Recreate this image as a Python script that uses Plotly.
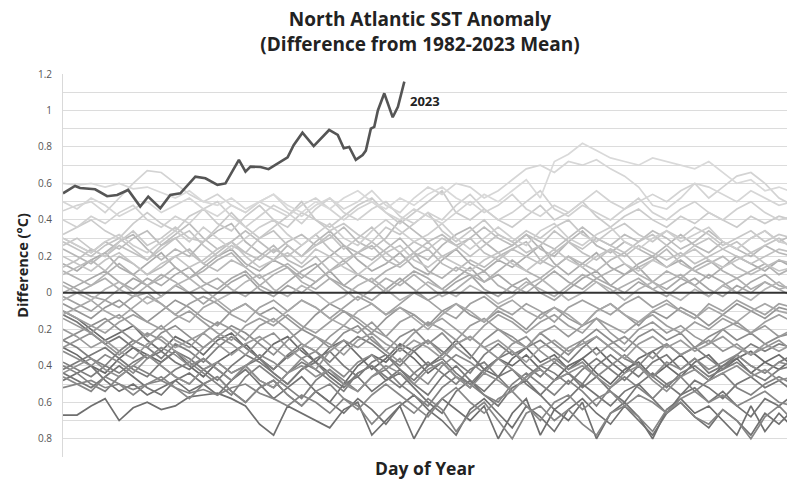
import plotly.graph_objects as go

# Day-of-year sample positions for the 1982-2022 series (weekly)
days = [1, 8, 15, 22, 29, 36, 43, 50, 57, 64, 71, 78, 85, 92, 99, 106, 113, 120, 127, 134,
        141, 148, 155, 162, 169, 176, 183, 190, 197, 204, 211, 218, 225, 232, 239, 246, 253,
        260, 267, 274, 281, 288, 295, 302, 309, 316, 323, 330, 337, 344, 351, 358, 365]

sst_1982 = [-0.30,-0.34,-0.40,-0.44,-0.36,-0.30,-0.34,-0.38,-0.32,-0.40, -0.46,-0.38,-0.33,-0.28,-0.36,-0.42,-0.35,-0.30,-0.38,-0.44, -0.50,-0.40,-0.34,-0.38,-0.30,-0.36,-0.44,-0.38,-0.46,-0.52, -0.42,-0.36,-0.40,-0.34,-0.42,-0.48,-0.40,-0.36,-0.44,-0.50, -0.42,-0.38,-0.46,-0.40,-0.34,-0.42,-0.48,-0.40,-0.36,-0.44, -0.38,-0.42,-0.36]
sst_1983 = [-0.10,-0.14,-0.20,-0.26,-0.22,-0.18,-0.26,-0.32,-0.24,-0.28, -0.34,-0.26,-0.22,-0.30,-0.36,-0.28,-0.24,-0.32,-0.38,-0.30, -0.26,-0.34,-0.42,-0.36,-0.28,-0.32,-0.40,-0.34,-0.26,-0.34, -0.42,-0.46,-0.36,-0.30,-0.38,-0.34,-0.42,-0.36,-0.30,-0.38, -0.44,-0.36,-0.32,-0.40,-0.46,-0.38,-0.34,-0.42,-0.36,-0.32, -0.38,-0.34,-0.40]
sst_1984 = [-0.67,-0.67,-0.62,-0.58,-0.70,-0.63,-0.60,-0.64,-0.62,-0.57, -0.56,-0.55,-0.58,-0.62,-0.72,-0.78,-0.62,-0.66,-0.70,-0.74, -0.64,-0.60,-0.78,-0.70,-0.62,-0.80,-0.66,-0.58,-0.64,-0.70, -0.62,-0.80,-0.66,-0.58,-0.78,-0.64,-0.70,-0.60,-0.80,-0.66, -0.60,-0.68,-0.80,-0.64,-0.58,-0.66,-0.62,-0.70,-0.78,-0.62, -0.76,-0.66,-0.74]
sst_1985 = [-0.48,-0.44,-0.40,-0.48,-0.54,-0.50,-0.56,-0.52,-0.48,-0.54, -0.50,-0.46,-0.54,-0.60,-0.52,-0.48,-0.56,-0.62,-0.54,-0.60, -0.66,-0.58,-0.64,-0.72,-0.62,-0.56,-0.64,-0.70,-0.78,-0.64, -0.58,-0.66,-0.74,-0.62,-0.68,-0.76,-0.64,-0.58,-0.66,-0.72, -0.62,-0.70,-0.78,-0.66,-0.60,-0.68,-0.74,-0.64,-0.70,-0.78, -0.66,-0.72,-0.64]
sst_1986 = [-0.44,-0.48,-0.52,-0.46,-0.40,-0.46,-0.52,-0.56,-0.48,-0.44, -0.50,-0.56,-0.48,-0.42,-0.50,-0.58,-0.52,-0.46,-0.54,-0.60, -0.50,-0.46,-0.54,-0.48,-0.44,-0.52,-0.60,-0.66,-0.54,-0.48, -0.56,-0.62,-0.52,-0.48,-0.56,-0.64,-0.58,-0.50,-0.56,-0.62, -0.54,-0.50,-0.58,-0.66,-0.56,-0.52,-0.60,-0.54,-0.62,-0.68, -0.58,-0.62,-0.56]
sst_1987 = [-0.12,-0.16,-0.22,-0.28,-0.24,-0.30,-0.36,-0.32,-0.38,-0.42, -0.36,-0.42,-0.48,-0.40,-0.36,-0.44,-0.50,-0.42,-0.38,-0.46, -0.52,-0.44,-0.40,-0.48,-0.42,-0.50,-0.56,-0.46,-0.40,-0.48, -0.54,-0.46,-0.42,-0.50,-0.56,-0.48,-0.44,-0.52,-0.46,-0.54, -0.60,-0.50,-0.44,-0.50,-0.56,-0.48,-0.52,-0.58,-0.50,-0.46, -0.52,-0.48,-0.54]
sst_1988 = [-0.42,-0.38,-0.34,-0.30,-0.36,-0.42,-0.46,-0.38,-0.32,-0.36, -0.42,-0.48,-0.40,-0.34,-0.38,-0.44,-0.50,-0.42,-0.36,-0.32, -0.40,-0.46,-0.38,-0.34,-0.42,-0.48,-0.40,-0.36,-0.44,-0.50, -0.42,-0.36,-0.32,-0.40,-0.46,-0.38,-0.44,-0.50,-0.40,-0.34, -0.40,-0.46,-0.38,-0.34,-0.42,-0.36,-0.44,-0.40,-0.34,-0.40, -0.44,-0.38,-0.34]
sst_1989 = [-0.38,-0.42,-0.46,-0.40,-0.44,-0.38,-0.34,-0.40,-0.46,-0.50, -0.42,-0.38,-0.44,-0.40,-0.48,-0.52,-0.44,-0.38,-0.42,-0.48, -0.54,-0.44,-0.40,-0.46,-0.52,-0.44,-0.38,-0.44,-0.50,-0.42, -0.38,-0.46,-0.54,-0.46,-0.40,-0.44,-0.50,-0.42,-0.36,-0.42, -0.48,-0.40,-0.46,-0.52,-0.44,-0.40,-0.46,-0.42,-0.38,-0.44, -0.48,-0.42,-0.40]
sst_1990 = [-0.26,-0.30,-0.36,-0.40,-0.32,-0.26,-0.30,-0.36,-0.28,-0.32, -0.38,-0.30,-0.24,-0.30,-0.36,-0.42,-0.34,-0.28,-0.32,-0.38, -0.30,-0.24,-0.28,-0.34,-0.40,-0.32,-0.26,-0.32,-0.38,-0.44, -0.34,-0.28,-0.34,-0.30,-0.26,-0.32,-0.38,-0.30,-0.24,-0.30, -0.36,-0.40,-0.32,-0.28,-0.34,-0.30,-0.36,-0.42,-0.34,-0.28, -0.32,-0.28,-0.30]
sst_1991 = [-0.40,-0.44,-0.50,-0.54,-0.46,-0.40,-0.44,-0.48,-0.42,-0.38, -0.44,-0.50,-0.56,-0.46,-0.40,-0.46,-0.52,-0.58,-0.48,-0.42, -0.48,-0.54,-0.46,-0.42,-0.50,-0.56,-0.62,-0.52,-0.46,-0.50, -0.56,-0.60,-0.50,-0.44,-0.50,-0.56,-0.48,-0.54,-0.62,-0.52, -0.46,-0.52,-0.58,-0.50,-0.46,-0.54,-0.48,-0.44,-0.52,-0.56, -0.50,-0.46,-0.50]
sst_1992 = [-0.52,-0.50,-0.48,-0.52,-0.50,-0.53,-0.50,-0.48,-0.52,-0.55, -0.53,-0.56,-0.52,-0.50,-0.55,-0.58,-0.62,-0.56,-0.60,-0.66, -0.58,-0.62,-0.72,-0.64,-0.60,-0.66,-0.58,-0.64,-0.76,-0.66, -0.60,-0.70,-0.80,-0.66,-0.62,-0.70,-0.64,-0.72,-0.78,-0.66, -0.62,-0.68,-0.76,-0.64,-0.60,-0.68,-0.72,-0.64,-0.70,-0.80, -0.68,-0.62,-0.70]
sst_1993 = [-0.46,-0.50,-0.54,-0.46,-0.50,-0.56,-0.50,-0.46,-0.52,-0.58, -0.50,-0.46,-0.54,-0.60,-0.52,-0.48,-0.56,-0.62,-0.54,-0.50, -0.58,-0.64,-0.56,-0.50,-0.56,-0.62,-0.68,-0.58,-0.52,-0.60, -0.66,-0.58,-0.54,-0.62,-0.70,-0.60,-0.56,-0.64,-0.58,-0.54, -0.62,-0.56,-0.60,-0.66,-0.58,-0.54,-0.60,-0.56,-0.62,-0.58, -0.54,-0.60,-0.62]
sst_1994 = [-0.32,-0.36,-0.40,-0.34,-0.38,-0.44,-0.36,-0.30,-0.34,-0.40, -0.36,-0.42,-0.48,-0.40,-0.34,-0.38,-0.44,-0.36,-0.32,-0.40, -0.46,-0.38,-0.34,-0.42,-0.36,-0.44,-0.50,-0.40,-0.34,-0.38, -0.44,-0.36,-0.42,-0.48,-0.40,-0.36,-0.42,-0.38,-0.46,-0.40, -0.34,-0.40,-0.46,-0.38,-0.42,-0.36,-0.42,-0.38,-0.34,-0.40, -0.44,-0.38,-0.40]
sst_1995 = [-0.26,-0.22,-0.18,-0.14,-0.20,-0.26,-0.30,-0.22,-0.18,-0.24, -0.30,-0.24,-0.18,-0.22,-0.28,-0.34,-0.26,-0.20,-0.24,-0.30, -0.22,-0.18,-0.26,-0.32,-0.24,-0.20,-0.28,-0.22,-0.30,-0.36, -0.26,-0.20,-0.24,-0.30,-0.22,-0.28,-0.34,-0.26,-0.20,-0.26, -0.32,-0.24,-0.20,-0.26,-0.22,-0.30,-0.24,-0.20,-0.26,-0.22, -0.28,-0.24,-0.22]
sst_1996 = [-0.44,-0.40,-0.36,-0.42,-0.46,-0.40,-0.34,-0.40,-0.46,-0.50, -0.42,-0.38,-0.44,-0.40,-0.48,-0.52,-0.44,-0.40,-0.46,-0.42, -0.50,-0.54,-0.46,-0.40,-0.44,-0.50,-0.42,-0.38,-0.46,-0.52, -0.44,-0.48,-0.54,-0.46,-0.42,-0.48,-0.44,-0.40,-0.46,-0.52, -0.44,-0.40,-0.48,-0.54,-0.46,-0.42,-0.48,-0.44,-0.40,-0.46, -0.42,-0.48,-0.46]
sst_1997 = [-0.30,-0.26,-0.22,-0.28,-0.34,-0.28,-0.22,-0.26,-0.32,-0.38, -0.30,-0.24,-0.28,-0.34,-0.26,-0.22,-0.30,-0.36,-0.42,-0.32, -0.26,-0.30,-0.24,-0.32,-0.38,-0.30,-0.26,-0.34,-0.28,-0.24, -0.30,-0.36,-0.28,-0.24,-0.32,-0.38,-0.30,-0.26,-0.34,-0.28, -0.24,-0.30,-0.36,-0.28,-0.34,-0.30,-0.26,-0.32,-0.28,-0.34, -0.30,-0.26,-0.32]
sst_1998 = [-0.06,-0.10,-0.14,-0.08,-0.04,-0.10,-0.16,-0.10,-0.04,-0.08, -0.14,-0.18,-0.10,-0.06,-0.12,-0.08,-0.14,-0.20,-0.12,-0.06, -0.10,-0.16,-0.22,-0.14,-0.08,-0.12,-0.18,-0.10,-0.06,-0.12, -0.16,-0.10,-0.14,-0.20,-0.12,-0.08,-0.14,-0.18,-0.10,-0.06, -0.12,-0.18,-0.10,-0.14,-0.08,-0.12,-0.18,-0.12,-0.06,-0.10, -0.14,-0.08,-0.10]
sst_1999 = [-0.14,-0.18,-0.22,-0.16,-0.12,-0.18,-0.24,-0.18,-0.26,-0.30, -0.22,-0.16,-0.20,-0.26,-0.18,-0.14,-0.20,-0.28,-0.32,-0.24, -0.18,-0.22,-0.16,-0.24,-0.30,-0.22,-0.16,-0.20,-0.26,-0.18, -0.14,-0.20,-0.26,-0.30,-0.22,-0.18,-0.24,-0.18,-0.14,-0.22, -0.28,-0.20,-0.16,-0.22,-0.18,-0.24,-0.28,-0.20,-0.16,-0.22, -0.18,-0.24,-0.20]
sst_2000 = [-0.20,-0.24,-0.30,-0.26,-0.32,-0.36,-0.28,-0.24,-0.30,-0.26, -0.22,-0.28,-0.34,-0.28,-0.24,-0.30,-0.36,-0.30,-0.24,-0.28, -0.34,-0.26,-0.22,-0.28,-0.32,-0.26,-0.30,-0.36,-0.28,-0.24, -0.30,-0.26,-0.32,-0.38,-0.30,-0.26,-0.32,-0.28,-0.24,-0.30, -0.36,-0.28,-0.24,-0.30,-0.26,-0.32,-0.28,-0.24,-0.30,-0.34, -0.28,-0.32,-0.28]
sst_2001 = [-0.10,-0.14,-0.18,-0.22,-0.16,-0.12,-0.16,-0.20,-0.14,-0.10, -0.16,-0.22,-0.26,-0.18,-0.14,-0.18,-0.12,-0.18,-0.22,-0.16, -0.10,-0.14,-0.20,-0.24,-0.16,-0.12,-0.18,-0.14,-0.20,-0.26, -0.18,-0.12,-0.16,-0.22,-0.16,-0.12,-0.18,-0.22,-0.14,-0.18, -0.22,-0.16,-0.12,-0.18,-0.22,-0.16,-0.20,-0.14,-0.18,-0.22, -0.16,-0.12,-0.16]
sst_2002 = [-0.02,-0.06,-0.10,-0.04,-0.08,-0.02,0.00,-0.06,-0.12,-0.06, -0.02,-0.06,-0.12,-0.16,-0.08,-0.04,-0.10,-0.04,-0.08,-0.14, -0.08,-0.02,-0.06,-0.12,-0.06,0.00,-0.04,-0.10,-0.14,-0.06, -0.02,-0.08,-0.12,-0.06,-0.10,-0.16,-0.08,-0.04,-0.08,-0.12, -0.06,-0.02,-0.08,-0.04,-0.10,-0.14,-0.06,-0.10,-0.04,-0.08, -0.12,-0.06,-0.08]
sst_2003 = [0.06,0.02,-0.02,-0.04,0.02,0.08,0.04,-0.02,0.04,0.00, -0.06,0.00,0.06,0.10,0.02,-0.02,0.04,0.00,0.06,0.12, 0.04,0.00,-0.04,0.02,0.08,0.02,-0.04,0.00,0.06,0.10, 0.02,-0.02,0.04,0.08,0.00,-0.04,0.02,0.08,0.12,0.04, 0.00,0.06,0.02,-0.02,0.04,0.08,0.02,-0.02,0.04,0.00, 0.06,0.02,-0.02]
sst_2004 = [-0.12,-0.08,-0.04,-0.10,-0.14,-0.08,-0.02,-0.06,-0.12,-0.16, -0.08,-0.04,-0.10,-0.06,-0.12,-0.16,-0.10,-0.04,-0.08,-0.14, -0.18,-0.10,-0.06,-0.12,-0.08,-0.14,-0.20,-0.12,-0.06,-0.10, -0.16,-0.08,-0.04,-0.10,-0.14,-0.08,-0.12,-0.18,-0.10,-0.06, -0.12,-0.16,-0.10,-0.06,-0.10,-0.14,-0.08,-0.12,-0.16,-0.10, -0.06,-0.10,-0.12]
sst_2005 = [0.00,0.04,0.08,0.12,0.06,0.02,0.08,0.04,0.10,0.14, 0.06,0.02,0.08,0.12,0.04,0.00,0.06,0.12,0.16,0.08, 0.04,0.10,0.06,0.00,0.06,0.12,0.08,0.02,0.08,0.14, 0.06,0.10,0.04,0.00,0.06,0.12,0.06,0.02,0.08,0.04, 0.10,0.14,0.06,0.02,0.08,0.04,0.10,0.06,0.00,0.06, 0.10,0.04,0.02]
sst_2006 = [0.16,0.12,0.18,0.22,0.14,0.10,0.16,0.22,0.14,0.08, 0.14,0.20,0.24,0.16,0.12,0.18,0.14,0.08,0.14,0.20, 0.26,0.18,0.12,0.16,0.22,0.14,0.10,0.18,0.24,0.16, 0.12,0.18,0.14,0.20,0.26,0.16,0.10,0.16,0.22,0.14, 0.10,0.16,0.20,0.14,0.18,0.12,0.08,0.14,0.20,0.16, 0.12,0.18,0.14]
sst_2007 = [-0.04,0.00,0.04,0.08,0.02,-0.02,0.04,0.10,0.06,0.00, 0.04,0.08,0.02,-0.02,0.04,0.10,0.14,0.06,0.02,0.08, 0.02,-0.04,0.02,0.08,0.04,0.10,0.04,-0.02,0.02,0.08, 0.12,0.04,0.00,0.06,0.02,-0.02,0.04,0.10,0.06,0.00, 0.04,0.08,0.02,0.06,0.10,0.04,-0.02,0.04,0.08,0.02, 0.06,0.02,0.04]
sst_2008 = [0.12,0.08,0.04,0.10,0.16,0.10,0.04,0.08,0.14,0.08, 0.12,0.18,0.22,0.14,0.08,0.12,0.16,0.10,0.06,0.12, 0.18,0.10,0.06,0.12,0.16,0.22,0.12,0.08,0.14,0.10, 0.06,0.12,0.18,0.12,0.08,0.14,0.20,0.14,0.08,0.12, 0.16,0.10,0.06,0.12,0.08,0.14,0.18,0.12,0.08,0.12, 0.16,0.10,0.14]
sst_2009 = [0.04,0.00,-0.04,0.02,0.06,0.00,-0.06,-0.02,0.04,0.08, 0.02,-0.04,0.00,0.06,0.10,0.02,-0.02,0.04,0.00,-0.06, -0.02,0.04,0.08,0.02,-0.04,0.00,0.06,0.02,-0.02,0.04, 0.00,-0.06,-0.02,0.04,0.08,0.02,-0.04,0.00,0.06,0.02, -0.04,0.02,0.06,0.00,-0.04,0.02,-0.02,0.04,0.00,-0.04, 0.02,0.06,0.00]
sst_2010 = [0.24,0.20,0.16,0.22,0.28,0.32,0.24,0.18,0.24,0.20, 0.28,0.34,0.38,0.28,0.22,0.18,0.26,0.20,0.28,0.34, 0.26,0.22,0.18,0.24,0.30,0.22,0.18,0.26,0.32,0.36, 0.28,0.22,0.26,0.32,0.24,0.20,0.28,0.34,0.26,0.22, 0.28,0.24,0.20,0.26,0.32,0.26,0.22,0.28,0.24,0.20, 0.26,0.22,0.20]
sst_2011 = [0.10,0.14,0.18,0.12,0.20,0.16,0.10,0.14,0.20,0.24, 0.16,0.12,0.18,0.14,0.20,0.26,0.18,0.14,0.20,0.12, 0.16,0.22,0.26,0.18,0.14,0.20,0.24,0.16,0.12,0.18, 0.14,0.20,0.24,0.28,0.18,0.14,0.20,0.16,0.12,0.18, 0.22,0.14,0.18,0.24,0.16,0.12,0.16,0.20,0.14,0.10, 0.14,0.18,0.16]
sst_2012 = [0.30,0.26,0.22,0.28,0.24,0.30,0.34,0.26,0.32,0.38, 0.30,0.24,0.28,0.34,0.28,0.22,0.28,0.32,0.26,0.30, 0.36,0.28,0.24,0.30,0.40,0.34,0.28,0.32,0.26,0.30, 0.36,0.30,0.26,0.32,0.28,0.24,0.30,0.36,0.30,0.26, 0.32,0.28,0.34,0.30,0.24,0.28,0.34,0.28,0.24,0.30, 0.34,0.28,0.32]
sst_2013 = [0.14,0.18,0.24,0.20,0.26,0.22,0.18,0.26,0.30,0.22, 0.16,0.22,0.28,0.22,0.18,0.24,0.20,0.26,0.32,0.24, 0.18,0.22,0.28,0.22,0.16,0.22,0.28,0.20,0.24,0.30, 0.22,0.18,0.24,0.20,0.16,0.22,0.28,0.22,0.18,0.24, 0.20,0.26,0.22,0.18,0.22,0.16,0.20,0.24,0.20,0.16, 0.20,0.24,0.22]
sst_2014 = [0.28,0.24,0.20,0.26,0.30,0.24,0.18,0.24,0.30,0.34, 0.26,0.20,0.26,0.22,0.30,0.34,0.26,0.20,0.26,0.32, 0.24,0.30,0.36,0.28,0.22,0.28,0.24,0.30,0.26,0.20, 0.26,0.32,0.28,0.22,0.26,0.34,0.28,0.24,0.30,0.26, 0.22,0.28,0.32,0.26,0.20,0.26,0.30,0.24,0.28,0.22, 0.26,0.30,0.24]
sst_2015 = [0.20,0.16,0.12,0.18,0.22,0.16,0.10,0.16,0.20,0.14, 0.18,0.24,0.28,0.20,0.14,0.18,0.22,0.16,0.24,0.20, 0.14,0.10,0.16,0.22,0.26,0.18,0.14,0.20,0.16,0.12, 0.18,0.22,0.16,0.12,0.18,0.24,0.18,0.14,0.20,0.24, 0.16,0.12,0.18,0.14,0.20,0.24,0.18,0.14,0.18,0.22, 0.16,0.12,0.14]
sst_2016 = [0.26,0.30,0.24,0.20,0.28,0.34,0.26,0.30,0.36,0.30, 0.28,0.36,0.44,0.36,0.30,0.36,0.42,0.50,0.40,0.34, 0.38,0.32,0.28,0.36,0.32,0.38,0.44,0.34,0.28,0.34, 0.40,0.32,0.28,0.34,0.30,0.36,0.40,0.32,0.28,0.34, 0.38,0.32,0.28,0.34,0.30,0.36,0.32,0.26,0.30,0.34, 0.28,0.32,0.30]
sst_2017 = [0.32,0.36,0.40,0.34,0.30,0.38,0.44,0.38,0.34,0.42, 0.46,0.38,0.34,0.42,0.48,0.40,0.36,0.44,0.40,0.36, 0.42,0.48,0.52,0.44,0.38,0.44,0.50,0.56,0.44,0.40, 0.46,0.40,0.36,0.42,0.48,0.40,0.44,0.50,0.42,0.36, 0.42,0.46,0.40,0.36,0.42,0.38,0.44,0.40,0.36,0.42, 0.38,0.42,0.40]
sst_2018 = [0.30,0.26,0.22,0.28,0.32,0.26,0.22,0.28,0.34,0.28, 0.36,0.30,0.24,0.30,0.36,0.40,0.32,0.26,0.32,0.38, 0.30,0.26,0.34,0.40,0.34,0.28,0.32,0.38,0.30,0.24, 0.30,0.36,0.30,0.26,0.34,0.38,0.30,0.26,0.32,0.36, 0.28,0.24,0.30,0.34,0.28,0.32,0.36,0.28,0.24,0.30, 0.34,0.28,0.26]
sst_2019 = [0.40,0.36,0.42,0.38,0.44,0.48,0.40,0.36,0.42,0.38, 0.46,0.50,0.42,0.36,0.42,0.48,0.44,0.38,0.46,0.52, 0.44,0.40,0.46,0.50,0.42,0.38,0.44,0.40,0.48,0.54, 0.46,0.40,0.44,0.50,0.56,0.46,0.42,0.48,0.44,0.40, 0.46,0.52,0.44,0.40,0.46,0.50,0.44,0.40,0.46,0.50, 0.44,0.40,0.42]
sst_2020 = [0.45,0.48,0.50,0.44,0.52,0.60,0.67,0.66,0.60,0.54, 0.50,0.54,0.48,0.44,0.50,0.46,0.42,0.48,0.52,0.46, 0.40,0.46,0.50,0.44,0.40,0.46,0.42,0.38,0.44,0.50, 0.44,0.48,0.54,0.46,0.42,0.48,0.44,0.50,0.56,0.50, 0.46,0.50,0.54,0.50,0.56,0.60,0.52,0.58,0.64,0.66, 0.60,0.52,0.48]
sst_2021 = [0.50,0.46,0.52,0.48,0.42,0.46,0.50,0.44,0.48,0.52, 0.46,0.42,0.48,0.44,0.50,0.54,0.46,0.42,0.48,0.52, 0.46,0.50,0.56,0.48,0.44,0.52,0.58,0.54,0.60,0.58, 0.52,0.56,0.62,0.68,0.70,0.66,0.72,0.70,0.73,0.68, 0.64,0.58,0.48,0.46,0.52,0.60,0.58,0.54,0.50,0.56, 0.52,0.48,0.50]
sst_2022 = [0.60,0.59,0.60,0.58,0.60,0.57,0.58,0.55,0.52,0.56, 0.50,0.48,0.52,0.46,0.50,0.54,0.48,0.44,0.50,0.46, 0.52,0.56,0.50,0.46,0.52,0.48,0.54,0.58,0.52,0.48, 0.54,0.50,0.56,0.62,0.52,0.72,0.76,0.82,0.78,0.74, 0.72,0.70,0.74,0.72,0.70,0.68,0.72,0.66,0.60,0.62, 0.56,0.58,0.55]

years = list(range(1982, 2023))
series = [sst_1982, sst_1983, sst_1984, sst_1985, sst_1986, sst_1987, sst_1988, sst_1989,
          sst_1990, sst_1991, sst_1992, sst_1993, sst_1994, sst_1995, sst_1996, sst_1997,
          sst_1998, sst_1999, sst_2000, sst_2001, sst_2002, sst_2003, sst_2004, sst_2005,
          sst_2006, sst_2007, sst_2008, sst_2009, sst_2010, sst_2011, sst_2012, sst_2013,
          sst_2014, sst_2015, sst_2016, sst_2017, sst_2018, sst_2019, sst_2020, sst_2021,
          sst_2022]

days_2023 = [1, 7, 9.5, 17, 23, 28, 33.5, 39.5, 43.5, 49.5, 54.5, 59.5, 67, 72, 78, 82, 88.7,
             92, 94.5, 99.5, 103.5, 108, 113, 116, 120.4, 126, 133.7, 138, 141, 143.7, 147,
             150.4, 152, 154.5, 156.2, 158, 161.2, 165.4, 168, 171.2]
sst_2023 = [0.546, 0.586, 0.575, 0.568, 0.53, 0.537, 0.564, 0.473, 0.528, 0.464, 0.537, 0.546,
            0.637, 0.628, 0.592, 0.60, 0.729, 0.665, 0.692, 0.69, 0.678, 0.71, 0.743, 0.81,
            0.878, 0.805, 0.893, 0.866, 0.793, 0.80, 0.729, 0.756, 0.78, 0.90, 0.91, 1.00,
            1.094, 0.963, 1.02, 1.158]

ytick_vals = [1.2, 1.1, 1.0, 0.9, 0.8, 0.7, 0.6, 0.5, 0.4, 0.3, 0.2, 0.1, 0.0,
              -0.1, -0.2, -0.3, -0.4, -0.5, -0.6, -0.7, -0.8, -0.9]
ytick_text = ["1.2", "", "1", "", "0.8", "", "0.6", "", "0.4", "", "0.2", "", "0",
              "", "0.2", "", "0.4", "", "0.6", "", "0.8", ""]

fig = go.Figure()
for yr, vals in zip(years, series):
    g = int(round(105 + (yr - 1982) * 2.8))
    fig.add_trace(go.Scatter(x=days[:len(vals)], y=vals, mode="lines", name=str(yr),
                             line=dict(color=f"rgb({g},{g},{g})", width=1.7),
                             hoverinfo="skip", showlegend=False))

fig.add_trace(go.Scatter(x=days_2023, y=sst_2023, mode="lines", name="2023",
                         line=dict(color="#555555", width=2.6), showlegend=False))

fig.add_shape(type="line", xref="paper", x0=0, x1=1, yref="y", y0=0, y1=0,
              line=dict(color="#333333", width=2), layer="above")

fig.add_annotation(x=173, y=1.05, xref="x", yref="y", text="<b>2023</b>",
                   showarrow=False, xanchor="left", yanchor="middle",
                   font=dict(family="Open Sans", size=13, color="#222222"))

fig.update_layout(
    width=787, height=481,
    margin=dict(l=63, r=0, t=74, b=24),
    paper_bgcolor="white", plot_bgcolor="white",
    font=dict(family="Open Sans", color="#222222"),
    title=dict(text="<b>North Atlantic SST Anomaly</b><br><b>(Difference from 1982-2023 Mean)</b>",
               xref="container", yref="container",
               x=0.5337, xanchor="center", y=0.946, yanchor="middle",
               font=dict(family="Open Sans", size=19, color="#222222")),
    showlegend=False,
)
fig.update_xaxes(range=[1, 362], showticklabels=False, showgrid=False, zeroline=False,
                 showline=False, automargin=False,
                 title=dict(text="<b>Day of Year</b>", standoff=5,
                            font=dict(family="Open Sans", size=17.5, color="#222222")))
fig.update_yaxes(range=[-0.9, 1.2], tickmode="array", tickvals=ytick_vals, ticktext=ytick_text,
                 showgrid=True, gridcolor="#dcdcdc", gridwidth=1, zeroline=False,
                 showline=True, linecolor="#d9d9d9", linewidth=1, automargin=False,
                 ticks="", ticklabelstandoff=8,
                 tickfont=dict(family="Open Sans", size=10, color="#555555"),
                 title=dict(text="<b>Difference (°C)</b>", standoff=5,
                            font=dict(family="Open Sans", size=14.5, color="#222222")))

fig.write_html("out.html", config={"displayModeBar": False},
               post_script="document.body.style.margin='0px';")
